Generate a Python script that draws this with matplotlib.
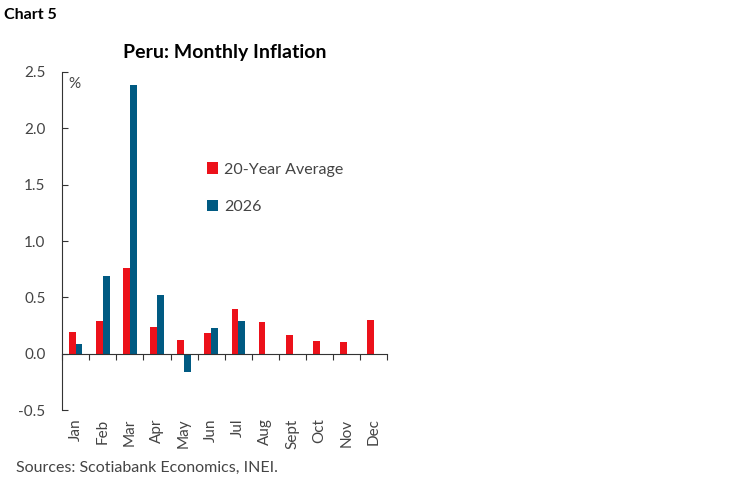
import numpy as np
import matplotlib.pyplot as plt
from matplotlib.transforms import blended_transform_factory

plt.rcParams['font.family'] = ['Lato', 'DejaVu Sans']

# Данные (оценка по графику)
months = ['Jan', 'Feb', 'Mar', 'Apr', 'May', 'Jun', 'Jul', 'Aug', 'Sept', 'Oct', 'Nov', 'Dec']
avg_20y = [0.19, 0.29, 0.76, 0.24, 0.12, 0.18, 0.40, 0.28, 0.17, 0.11, 0.10, 0.30]
y2026 = [0.09, 0.69, 2.38, 0.52, -0.16, 0.23, 0.29]

red = '#EC111A'
blue = '#005A82'
grey = '#333333'

fig = plt.figure(figsize=(7.48, 4.83), dpi=100)
ax = fig.add_axes([0.083, 0.151, 0.435, 0.700])

x = np.arange(len(months))
w = 0.25
ax.bar(x - w / 2, avg_20y, width=w, color=red, label='20-Year Average')
ax.bar(np.arange(len(y2026)) + w / 2, y2026, width=w, color=blue, label='2026')

ax.set_xlim(-0.5, len(months) - 0.5)
ax.set_ylim(-0.5, 2.5)
ax.set_yticks([-0.5, 0, 0.5, 1.0, 1.5, 2.0, 2.5])
ax.set_yticklabels(['-0.5', '0.0', '0.5', '1.0', '1.5', '2.0', '2.5'])
ax.tick_params(axis='y', direction='in', length=4, labelsize=11,
               labelcolor='#444444', color=grey, pad=12)

# ось X по нулю, засечки между месяцами
for s in ['top', 'right']:
    ax.spines[s].set_visible(False)
ax.spines['bottom'].set_position(('data', 0))
ax.spines['left'].set_color(grey)
ax.spines['bottom'].set_color(grey)
ax.set_xticks(np.arange(len(months) + 1) - 0.5)
ax.set_xticklabels([])
ax.tick_params(axis='x', direction='out', length=4, color=grey)

# подписи месяцев внизу
tr = blended_transform_factory(ax.transData, ax.transAxes)
for i, m in enumerate(months):
    ax.text(i, -0.025, m, transform=tr, rotation=90, ha='center', va='top',
            fontsize=11, color='#444444')

ax.text(0.018, 0.985, '%', transform=ax.transAxes, ha='left', va='top',
        fontsize=11, color='#444444')

ax.legend(loc='upper left', bbox_to_anchor=(0.40, 0.775), frameon=False,
          handlelength=0.7, handleheight=0.7, handletextpad=0.4,
          labelspacing=1.45, fontsize=11.5, labelcolor='#444444')

ax.set_title('Peru: Monthly Inflation', fontsize=14, fontweight='bold', pad=10)
fig.text(0.006, 0.968, 'Chart 5', fontsize=11.5, fontweight='bold', va='center')
fig.text(0.022, 0.031, 'Sources: Scotiabank Economics, INEI.', fontsize=11.5,
         color='#444444', va='center')

fig.savefig('out.png', dpi=100)
